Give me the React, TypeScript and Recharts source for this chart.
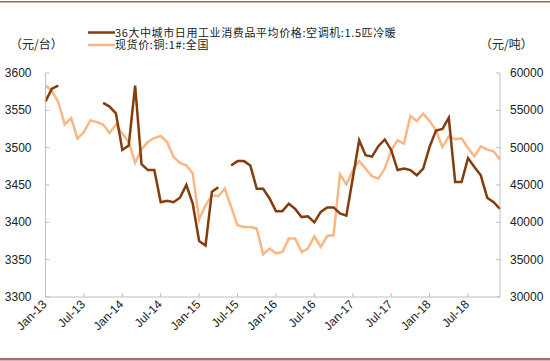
import { LineChart, Line, XAxis, YAxis } from 'recharts';

const monthNames = ['Jan', 'Feb', 'Mar', 'Apr', 'May', 'Jun', 'Jul', 'Aug', 'Sep', 'Oct', 'Nov', 'Dec'];
const years = ['13', '14', '15', '16', '17', '18'];
const months = years.flatMap((y) => monthNames.map((m) => `${m}-${y}`));

// 空调机 1.5匹冷暖 平均价格 (元/台), null = 缺数
const acPrice: (number | null)[] = [
  3562, 3579, 3583, null, null, null, null, null, null, 3560, 3555, 3546,
  3497, 3503, 3583, 3478, 3470, 3470, 3427, 3429, 3427, 3433, 3450, 3425,
  3375, 3369, 3441, 3447, null, 3476, 3482, 3482, 3476, 3445, 3445, 3432,
  3415, 3415, 3425, 3418, 3407, 3408, 3400, 3414, 3420, 3420, 3412, 3409,
  3459, 3510, 3490, 3488, 3502, 3511, 3497, 3470, 3472, 3470, 3463, 3472,
  3501, 3523, 3525, 3540, 3454, 3454, 3486, 3474, 3463, 3433, 3427, 3418,
];

// 现货价:铜:1#:全国 (元/吨)
const copperPrice: number[] = [
  58350, 57590, 56120, 53130, 53970, 51210, 52100, 53660, 53440, 53090, 51960, 53090,
  51880, 50760, 48000, 49780, 50760, 51290, 51560, 50760, 48750, 47950, 47640, 46530,
  40370, 42280, 43620, 43490, 44520, 42050, 39600, 39380, 39380, 39160, 35720, 36480,
  35850, 36030, 37820, 37820, 36030, 36480, 38130, 36700, 38170, 38260, 46430, 45090,
  46970, 48210, 47200, 46170, 45860, 47200, 49650, 50990, 50540, 54240, 53570, 54560,
  53570, 52330, 50090, 51520, 51120, 51250, 49960, 48840, 50180, 49740, 49510, 48400,
];

const xTicks = years.flatMap((y) => [`Jan-${y}`, `Jul-${y}`]);
const leftTicks = [3300, 3350, 3400, 3450, 3500, 3550, 3600];
const rightTicks = [30000, 35000, 40000, 45000, 50000, 55000, 60000];

const data = months.map((m, i) => ({ month: m, ac: acPrice[i], cu: copperPrice[i] }));

const BROWN = '#843C0C';
const PEACH = '#F9B784';
const AXIS = '#BFBFBF';
const FONT = '"Liberation Sans", Arial, sans-serif';
const CJK = '"Noto Sans CJK SC", "Liberation Sans", sans-serif';

const XTick = (props: any) => {
  const { x, y, payload } = props;
  return (
    <g>
      <line x1={x} y1={y} x2={x} y2={y - 4} stroke={AXIS} />
      <text
        transform={`translate(${x + 2},${y + 8}) rotate(-45)`}
        textAnchor="end"
        fontSize={12}
        fontFamily={FONT}
        fill="#222"
      >
        {payload.value}
      </text>
    </g>
  );
};

const LeftTick = (props: any) => {
  const { x, y, payload } = props;
  return (
    <g>
      <line x1={x} y1={y} x2={x + 4} y2={y} stroke={AXIS} />
      <text x={x - 14} y={y} dy={4} textAnchor="end" fontSize={12} fontFamily={FONT} fill="#222">
        {payload.value}
      </text>
    </g>
  );
};

const RightTick = (props: any) => {
  const { x, y, payload } = props;
  return (
    <g>
      <line x1={x} y1={y} x2={x - 4} y2={y} stroke={AXIS} />
      <text x={x + 10} y={y} dy={4} textAnchor="start" fontSize={12} fontFamily={FONT} fill="#222">
        {payload.value}
      </text>
    </g>
  );
};

export default function App() {
  return (
    <div style={{ position: 'absolute', left: 0, top: 0, width: 550, height: 361, background: '#fff' }}>
      <LineChart width={550} height={361} data={data} margin={{ top: 73, right: 0, bottom: 0, left: 0 }}>
        <XAxis
          dataKey="month"
          scale="point"
          padding={{ left: 0, right: 0 }}
          ticks={xTicks}
          interval={0}
          height={64}
          tickSize={0}
          tickMargin={0}
          tick={<XTick />}
          axisLine={{ stroke: AXIS }}
        />
        <YAxis
          yAxisId="left"
          width={45.5}
          domain={[3300, 3600]}
          ticks={leftTicks}
          interval={0}
          tickSize={0}
          tickMargin={0}
          tick={<LeftTick />}
          axisLine={{ stroke: AXIS }}
        />
        <YAxis
          yAxisId="right"
          orientation="right"
          width={50}
          domain={[30000, 60000]}
          ticks={rightTicks}
          interval={0}
          tickSize={0}
          tickMargin={0}
          tick={<RightTick />}
          axisLine={{ stroke: AXIS }}
        />
        <Line
          yAxisId="right"
          dataKey="cu"
          stroke={PEACH}
          strokeWidth={2.5}
          dot={false}
          isAnimationActive={false}
        />
        <Line
          yAxisId="left"
          dataKey="ac"
          stroke={BROWN}
          strokeWidth={2.5}
          dot={false}
          isAnimationActive={false}
        />
      </LineChart>
      <svg width={550} height={361} style={{ position: 'absolute', left: 0, top: 0, pointerEvents: 'none' }}>
        <rect x={0} y={1} width={550} height={1.5} fill="#A26464" />
        <rect x={0} y={358} width={550} height={2.5} fill="#A86A6A" />
        <text x={10} y={49} fontSize={12} fontFamily={CJK} fill="#222">（元/台）</text>
        <text x={480} y={49} fontSize={12} fontFamily={CJK} fill="#222">（元/吨）</text>
        <line x1={88} y1={32.5} x2={115} y2={32.5} stroke={BROWN} strokeWidth={2.5} />
        <text x={115} y={36.5} fontSize={11} letterSpacing={0.6} fontFamily={CJK} fill="#222">36大中城市日用工业消费品平均价格:空调机:1.5匹冷暖</text>
        <line x1={88} y1={45} x2={115} y2={45} stroke={PEACH} strokeWidth={2.5} />
        <text x={115} y={49} fontSize={11} letterSpacing={0.6} fontFamily={CJK} fill="#222">现货价:铜:1#:全国</text>
      </svg>
    </div>
  );
}
